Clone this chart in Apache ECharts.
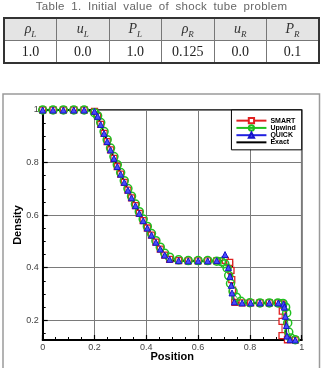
<!DOCTYPE html>
<html>
<head>
<meta charset="utf-8">
<script src="https://cdn.jsdelivr.net/npm/echarts@6/dist/echarts.min.js"></script>
<style>
  body { margin: 0; background: #fff; }
  #wrap { position: relative; width: 323px; height: 368px; overflow: hidden; }
  #chart { position: absolute; left: 0; top: 0; width: 323px; height: 368px; }
  #cap {
    position: absolute; left: 0; top: -1px; width: 323px; text-align: center;
    font: 11.5px "Liberation Sans", Arial, sans-serif; color: #666;
    word-spacing: 3px; letter-spacing: 0.3px; line-height: 14px;
  }
  #tbl {
    position: absolute; left: 3px; top: 17px; width: 317px; height: 45px;
    border-collapse: collapse; border: 2px solid #333; table-layout: fixed;
    font-family: "Liberation Serif", "DejaVu Serif", serif; color: #222;
  }
  #tbl td { border: 1px solid #777; text-align: center; padding: 0; height: 21px; }
  #tbl tr.h td { background: #e4e4e4; font-style: italic; font-size: 14px; color: #333; }
  #tbl tr.d td { font-size: 14px; }
  #tbl sub { font-size: 9px; }
</style>
</head>
<body>
<div id="wrap">
  <div id="chart"></div>
  <div id="cap">Table 1. Initial value of shock tube problem</div>
  <table id="tbl">
    <tr class="h"><td>ρ<sub>L</sub></td><td>u<sub>L</sub></td><td>P<sub>L</sub></td><td>ρ<sub>R</sub></td><td>u<sub>R</sub></td><td>P<sub>R</sub></td></tr>
    <tr class="d"><td>1.0</td><td>0.0</td><td>1.0</td><td>0.125</td><td>0.0</td><td>0.1</td></tr>
  </table>
</div>
<script>
// tick values
const xTicks = [0, 0.2, 0.4, 0.6, 0.8, 1]
const yTicks = [0.2, 0.4, 0.6, 0.8, 1]
const yMinor = [0.15, 0.25, 0.3, 0.35, 0.45, 0.5, 0.55, 0.65, 0.7, 0.75, 0.85, 0.9, 0.95]

// exact solution
const exactX = [0, 0.2042, 0.22, 0.24, 0.26, 0.28, 0.30, 0.32, 0.34, 0.36, 0.38, 0.40, 0.42, 0.44, 0.46, 0.4825, 0.732, 0.732, 0.938, 0.938, 1]
const exactRho = [1, 1, 0.956, 0.903, 0.852, 0.804, 0.758, 0.714, 0.672, 0.632, 0.594, 0.558, 0.523, 0.490, 0.459, 0.426, 0.426, 0.266, 0.266, 0.125, 0.125]

// SMART
const smartX = [0, 0.04, 0.08, 0.12, 0.16, 0.2, 0.212, 0.224, 0.237, 0.249, 0.262, 0.275, 0.288, 0.301, 0.315, 0.329, 0.343, 0.358, 0.373, 0.388, 0.404, 0.42, 0.437, 0.454, 0.471,
  0.49, 0.525, 0.562, 0.6, 0.637, 0.672, 0.705, 0.722, 0.727, 0.73, 0.733, 0.742, 0.77, 0.803, 0.839, 0.875, 0.91, 0.924, 0.925, 0.924, 0.924, 0.945, 0.975]
const smartRho = [1, 1, 1, 1, 1, 0.995, 0.976, 0.945, 0.911, 0.88, 0.848, 0.816, 0.785, 0.756, 0.725, 0.695, 0.666, 0.636, 0.607, 0.579, 0.551, 0.524, 0.497, 0.471, 0.448,
  0.432, 0.427, 0.426, 0.426, 0.426, 0.426, 0.428, 0.42, 0.39, 0.355, 0.315, 0.268, 0.266, 0.266, 0.266, 0.266, 0.266, 0.262, 0.235, 0.196, 0.142, 0.126, 0.125]

// Upwind
const upwindX = [0, 0.04, 0.08, 0.12, 0.16, 0.2, 0.212, 0.224, 0.237, 0.249, 0.262, 0.275, 0.288, 0.301, 0.315, 0.329, 0.343, 0.358, 0.373, 0.388, 0.404, 0.42, 0.437, 0.454, 0.471,
  0.49, 0.525, 0.562, 0.6, 0.637, 0.672, 0.69, 0.703, 0.712, 0.718, 0.725, 0.735, 0.748, 0.765, 0.8, 0.839, 0.875, 0.908, 0.928, 0.938, 0.942, 0.946, 0.95, 0.958, 0.975]
const upwindRho = [1, 1, 1, 1, 1, 0.99, 0.978, 0.952, 0.918, 0.887, 0.855, 0.823, 0.792, 0.762, 0.731, 0.701, 0.672, 0.642, 0.613, 0.585, 0.557, 0.53, 0.503, 0.478, 0.455,
  0.44, 0.43, 0.427, 0.427, 0.427, 0.425, 0.423, 0.415, 0.398, 0.37, 0.34, 0.31, 0.288, 0.272, 0.267, 0.266, 0.266, 0.266, 0.264, 0.25, 0.228, 0.19, 0.155, 0.133, 0.126]

// QUICK
const quickX = [0, 0.04, 0.08, 0.12, 0.16, 0.2, 0.212, 0.224, 0.237, 0.249, 0.262, 0.275, 0.288, 0.301, 0.315, 0.329, 0.343, 0.358, 0.373, 0.388, 0.404, 0.42, 0.437, 0.454, 0.471,
  0.49, 0.525, 0.562, 0.6, 0.637, 0.672, 0.704, 0.717, 0.723, 0.728, 0.731, 0.74, 0.77, 0.803, 0.839, 0.875, 0.91, 0.93, 0.933, 0.937, 0.941, 0.943, 0.955, 0.975]
const quickRho = [1, 1, 1, 1, 1, 0.995, 0.976, 0.945, 0.911, 0.88, 0.848, 0.816, 0.785, 0.756, 0.725, 0.695, 0.666, 0.636, 0.607, 0.579, 0.551, 0.524, 0.497, 0.471, 0.448,
  0.432, 0.427, 0.426, 0.426, 0.426, 0.427, 0.45, 0.4, 0.367, 0.333, 0.304, 0.27, 0.266, 0.266, 0.266, 0.266, 0.266, 0.262, 0.25, 0.215, 0.18, 0.14, 0.126, 0.125]

const pairs = (xs, ys) => xs.map((x, i) => [x, ys[i]])

const chart = echarts.init(document.getElementById('chart'), null, { renderer: 'canvas' })

const option = {
  animation: false,
  backgroundColor: 'transparent',
  textStyle: { fontFamily: 'Liberation Sans, Arial, sans-serif' },
  graphic: [{
    type: 'rect', silent: true, z: -1,
    shape: { x: 3, y: 94, width: 316.5, height: 280 },
    style: { fill: 'none', stroke: '#9a9a9a', lineWidth: 1.5 }
  }],
  grid: {
    left: 42.7, right: 21.3, top: 110, bottom: 28,
    show: true, borderColor: '#000', borderWidth: 1.5,
    outerBoundsMode: 'none'
  },
  legend: {
    orient: 'vertical',
    right: 21.3, top: 110,
    padding: [7, 6, 4, 4],
    itemGap: 0,
    itemWidth: 30, itemHeight: 6.6,
    backgroundColor: '#fff',
    borderColor: '#000', borderWidth: 1,
    textStyle: { fontSize: 7, fontWeight: 'bold', color: '#000', lineHeight: 7, padding: [0, 0, 0, -1] },
    data: ['SMART', 'Upwind', 'QUICK', { name: 'Exact', itemStyle: { opacity: 0 } }]
  },
  xAxis: {
    type: 'value', min: 0, max: 1, interval: 0.2,
    name: 'Position', nameLocation: 'middle', nameGap: 11, nameMoveOverlap: false,
    nameTextStyle: { fontSize: 11, fontWeight: 'bold', color: '#000' },
    axisLine: { lineStyle: { color: '#000', width: 2 } },
    axisTick: { inside: true, length: 5, lineStyle: { color: '#000', width: 1.2 } },
    minorTick: { show: true, splitNumber: 4, length: 3, lineStyle: { color: '#000', width: 1 } },
    axisLabel: { fontSize: 9, color: '#444', margin: 3, formatter: v => String(v) },
    splitLine: { show: true, lineStyle: { color: '#7a7a7a', width: 1 } }
  },
  yAxis: [{
    type: 'value', min: 0.125, max: 1,
    name: 'Density', nameLocation: 'middle', nameGap: 19, nameMoveOverlap: false,
    nameTextStyle: { fontSize: 11, fontWeight: 'bold', color: '#000' },
    axisLine: { lineStyle: { color: '#000', width: 2 } },
    axisTick: { inside: true, length: 5, customValues: yTicks, lineStyle: { color: '#000', width: 1.2 } },
    axisLabel: { fontSize: 9, color: '#444', margin: 4, customValues: yTicks, formatter: v => String(v) },
    splitLine: { show: true, lineStyle: { color: '#7a7a7a', width: 1 } }
  }, {
    type: 'value', min: 0.125, max: 1, position: 'left',
    axisLine: { show: false },
    axisLabel: { show: false },
    splitLine: { show: false },
    axisTick: { inside: true, length: 3, customValues: yMinor, lineStyle: { color: '#000', width: 1 } }
  }],
  series: [
    {
      name: 'SMART', type: 'line', data: pairs(smartX, smartRho),
      symbol: 'rect', symbolSize: 6,
      lineStyle: { color: '#e02020', width: 1 },
      itemStyle: { color: '#fff', borderColor: '#e02020', borderWidth: 1.3 }
    },
    {
      name: 'Upwind', type: 'line', data: pairs(upwindX, upwindRho),
      symbol: 'circle', symbolSize: 8,
      lineStyle: { color: '#20c020', width: 1 },
      itemStyle: { color: 'rgba(255,255,255,0)', borderColor: '#20c020', borderWidth: 1.5 }
    },
    {
      name: 'QUICK', type: 'line', data: pairs(quickX, quickRho),
      symbol: 'triangle', symbolSize: 6,
      lineStyle: { color: '#2020e0', width: 1 },
      itemStyle: { color: '#4a4aff', borderColor: '#1515c8', borderWidth: 1 }
    },
    {
      name: 'Exact', type: 'line', data: pairs(exactX, exactRho),
      symbol: 'none',
      lineStyle: { color: '#000', width: 1.6 },
      itemStyle: { color: '#000' }
    }
  ]
}

chart.setOption(option)
</script>
</body>
</html>
